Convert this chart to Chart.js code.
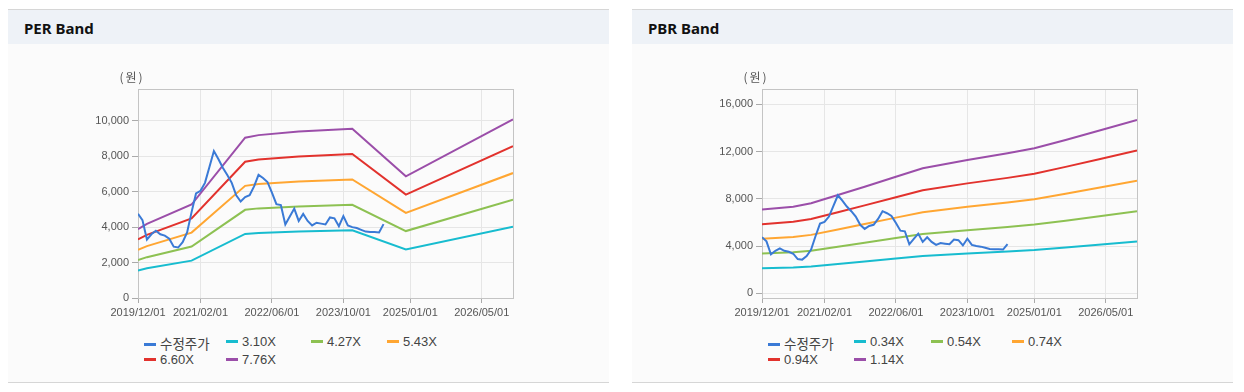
<!DOCTYPE html>
<html>
<head>
<meta charset="utf-8">
<script src="https://cdn.jsdelivr.net/npm/chart.js@4.4.1/dist/chart.umd.min.js"></script>
<style>
  body { margin: 0; background: #fff; width: 1244px; height: 392px; position: relative; overflow: hidden;
         font-family: 'Liberation Sans', Arial, 'Noto Sans CJK KR', sans-serif; }
  .panel { position: absolute; top: 9px; width: 601px; height: 372px; background: #fbfbfb;
           border-top: 1px solid #d6d6d6; border-bottom: 1px solid #d6d6d6; }
  .head { height: 34px; background: #eef2f7; padding-left: 16px;
          font: bold 15px/36px 'Noto Sans', 'Noto Sans CJK KR', sans-serif; color: #111; }
  .panel canvas { position: absolute; left: 52px; top: 50px; }
  .legend { position: absolute; left: 136px; top: 323px; display: grid; font-size: 13px; color: #444; }
  .legend div { height: 17.6px; line-height: 17.6px; white-space: nowrap; }
  .legend span.mk { display: inline-block; width: 12px; height: 3px; vertical-align: middle; margin-right: 4px; position: relative; top: -1px; }
  .legend span.ko { font: 13.5px 'Noto Sans CJK KR', sans-serif; }
</style>
</head>
<body>

<div class="panel" style="left:8px">
  <div class="head">PER Band</div>
  <canvas id="perChart" width="480" height="270"></canvas>
  <div class="legend" id="perLegend" style="grid-template-columns: 82px 85px 76px 80px"></div>
</div>

<div class="panel" style="left:632px">
  <div class="head">PBR Band</div>
  <canvas id="pbrChart" width="480" height="270"></canvas>
  <div class="legend" id="pbrLegend" style="grid-template-columns: 86px 77px 81px 80px"></div>
</div>

<script>
// x axis = months since 2019/12
const xTickMonths = [0, 14, 30, 46, 61, 77];
const xTickLabels = ["2019/12/01", "2021/02/01", "2022/06/01", "2023/10/01", "2025/01/01", "2026/05/01"];

// 수정주가, monthly from 2019/12
const priceValues = [
  4750, 4400, 3300, 3600, 3800, 3600, 3520, 3350, 2900, 2850,
  3150, 3700, 4850, 5900, 6050, 6500, 7400, 8300, 7850, 7350,
  6950, 6500, 5800, 5450, 5700, 5800, 6300, 6950, 6780, 6550,
  5950, 5300, 5250, 4150, 4600, 5050, 4350, 4750, 4350, 4100,
  4250, 4200, 4150, 4550, 4500, 4050, 4620, 4100, 4000, 3950,
  3850, 3750, 3720, 3720, 3700, 4170
];

// PER band
const perMonths = [0, 2, 12, 24, 27, 36, 48, 60, 84];
const per310 = [1553, 1674, 2108, 3615, 3674, 3754, 3819, 2744, 4027];
const per427 = [2139, 2306, 2904, 4979, 5060, 5171, 5261, 3779, 5547];
const per543 = [2720, 2932, 3692, 6331, 6435, 6576, 6690, 4806, 7054];
const per660 = [3307, 3564, 4488, 7696, 7821, 7993, 8131, 5841, 8573];
const per776 = [3888, 4190, 5277, 9048, 9196, 9397, 9560, 6868, 10080];
const perYTicks = [0, 2000, 4000, 6000, 8000, 10000];

// PBR band
const pbrMonths = [0, 7, 11, 17, 23, 30, 36, 46, 55, 61, 68, 76, 84];
const pbr034 = [2118, 2188, 2273, 2482, 2692, 2944, 3157, 3366, 3535, 3661, 3871, 4124, 4376];
const pbr054 = [3364, 3474, 3609, 3942, 4276, 4676, 5013, 5347, 5614, 5815, 6148, 6550, 6951];
const pbr074 = [4610, 4761, 4946, 5402, 5859, 6408, 6870, 7327, 7694, 7969, 8426, 8975, 9525];
const pbr094 = [5856, 6048, 6283, 6862, 7443, 8140, 8727, 9307, 9773, 10123, 10703, 11401, 12100];
const pbr114 = [7102, 7335, 7620, 8322, 9027, 9872, 10584, 11287, 11853, 12277, 12980, 13827, 14674];
const pbrYTicks = [0, 4000, 8000, 12000, 16000];

const COLORS = ["#3a7ad6", "#17bccf", "#8dc152", "#ffa632", "#e2322d", "#9b4ea9"];
const tickFont = { family: "'Liberation Sans', Arial, sans-serif", size: 11 };

// frame round the plot + unit label
const framePlugin = {
  id: 'frame',
  beforeDatasetsDraw(chart) {
    const a = chart.chartArea, ctx = chart.ctx;
    ctx.save();
    ctx.strokeStyle = '#c4c4c4';
    ctx.lineWidth = 1;
    ctx.strokeRect(Math.round(a.left) + 0.5, Math.round(a.top) + 0.5, Math.round(a.right - a.left), Math.round(a.bottom - a.top));
    ctx.fillStyle = '#555';
    ctx.font = "12px 'Noto Sans CJK KR', sans-serif";
    ctx.letterSpacing = '2px';
    ctx.textAlign = 'center';
    ctx.textBaseline = 'middle';
    ctx.fillText('(원)', a.left - 6, a.top - 12);
    ctx.restore();
  }
};

function series(label, months, values, color) {
  return {
    label: label,
    data: months.map((m, i) => ({ x: m, y: values[i] })),
    borderColor: color,
    backgroundColor: color,
    borderWidth: 2,
    pointRadius: 0,
    tension: 0,
    fill: false
  };
}

function makeChart(canvasId, legendId, datasets, yMin, yMax, yTicks) {
  const chart = new Chart(document.getElementById(canvasId), {
    type: 'line',
    data: { datasets: datasets },
    options: {
      responsive: false,
      animation: false,
      devicePixelRatio: 1,
      layout: { padding: { top: 29, right: 27, left: 0, bottom: 0 } },
      plugins: { legend: { display: false }, tooltip: { enabled: false } },
      scales: {
        x: {
          type: 'linear', min: 0, max: 84,
          afterBuildTicks: axis => { axis.ticks = xTickMonths.map(v => ({ value: v })); },
          afterFit: axis => { axis.height = 32; },
          ticks: {
            autoSkip: false, maxRotation: 0, padding: 3, color: '#555', font: tickFont,
            callback: v => xTickLabels[xTickMonths.indexOf(v)]
          },
          grid: { color: '#e6e6e6', tickColor: '#aaa', tickLength: 5 },
          border: { display: false }
        },
        y: {
          min: yMin, max: yMax,
          afterBuildTicks: axis => { axis.ticks = yTicks.map(v => ({ value: v })); },
          afterFit: axis => { axis.width = 78; },
          ticks: {
            padding: 3, color: '#555', font: tickFont,
            callback: v => v.toLocaleString('en-US')
          },
          grid: { color: '#e6e6e6', tickColor: '#aaa', tickLength: 6 },
          border: { display: false }
        }
      }
    },
    plugins: [framePlugin]
  });

  // html legend in fixed columns
  const legend = document.getElementById(legendId);
  chart.data.datasets.forEach(ds => {
    const item = document.createElement('div');
    const mk = document.createElement('span');
    mk.className = 'mk';
    mk.style.background = ds.borderColor;
    item.appendChild(mk);
    const txt = document.createElement('span');
    if (/[^\x00-\x7F]/.test(ds.label)) txt.className = 'ko';
    txt.textContent = ds.label;
    item.appendChild(txt);
    legend.appendChild(item);
  });
  return chart;
}

const priceMonths = priceValues.map((v, i) => i);

makeChart('perChart', 'perLegend', [
  series('수정주가', priceMonths, priceValues, COLORS[0]),
  series('3.10X', perMonths, per310, COLORS[1]),
  series('4.27X', perMonths, per427, COLORS[2]),
  series('5.43X', perMonths, per543, COLORS[3]),
  series('6.60X', perMonths, per660, COLORS[4]),
  series('7.76X', perMonths, per776, COLORS[5])
], 0, 11800, perYTicks);

makeChart('pbrChart', 'pbrLegend', [
  series('수정주가', priceMonths, priceValues, COLORS[0]),
  series('0.34X', pbrMonths, pbr034, COLORS[1]),
  series('0.54X', pbrMonths, pbr054, COLORS[2]),
  series('0.74X', pbrMonths, pbr074, COLORS[3]),
  series('0.94X', pbrMonths, pbr094, COLORS[4]),
  series('1.14X', pbrMonths, pbr114, COLORS[5])
], -400, 17300, pbrYTicks);
</script>
</body>
</html>
